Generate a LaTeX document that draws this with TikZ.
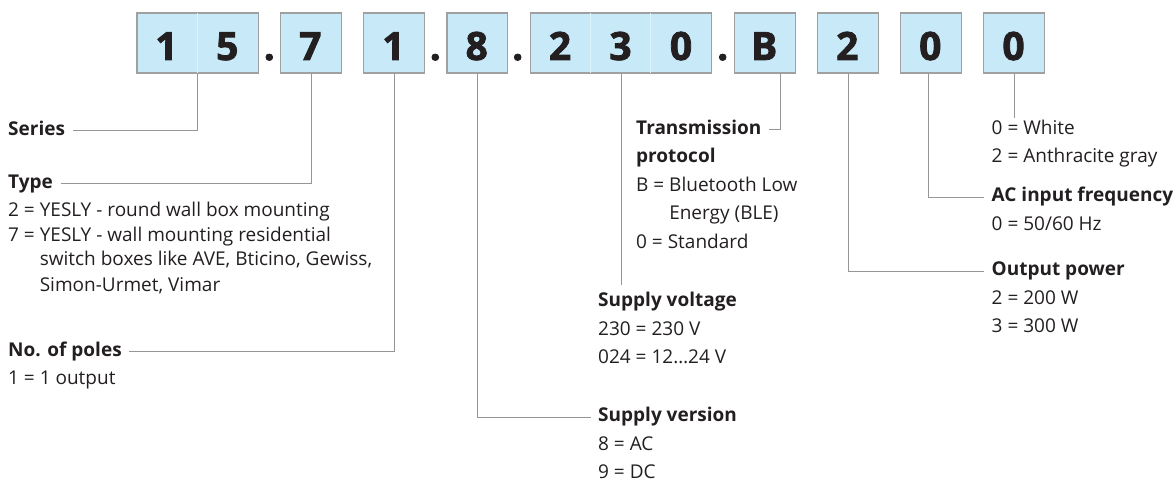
\documentclass[tikz,border=0pt]{standalone}
\usepackage{fontspec}
\setmainfont{Open Sans}
\newfontfamily\digitfont{Open Sans}[BoldFeatures={FakeBold=2}]
\usetikzlibrary{calc}
\definecolor{boxfill}{RGB}{199,233,248}
\definecolor{boxline}{RGB}{160,160,160}
\definecolor{connline}{RGB}{150,150,150}
\definecolor{ink}{RGB}{35,31,32}
\definecolor{seamcol}{RGB}{220,242,252}
\begin{document}
\begin{tikzpicture}[x=1pt,y=-1pt,
  codebox/.style={draw=boxline, line width=1.3pt, fill=boxfill, inner sep=0pt, anchor=north west, minimum height=60pt},
  digit/.style={font=\digitfont\fontsize{39}{39}\selectfont\bfseries, text=ink, anchor=base, inner sep=0pt},
  conn/.style={draw=connline, line width=1pt},
  seam/.style={draw=seamcol, line width=0.8pt},
  head/.style={font=\fontsize{19}{28.5}\selectfont\bfseries, text=ink, inner xsep=7.5pt, inner ysep=0pt, text height=9pt, text depth=0pt, anchor=base west},
  body/.style={font=\fontsize{19}{28.5}\selectfont, text=ink, inner sep=0pt, anchor=base west},
  tightbody/.style={font=\fontsize{19}{25}\selectfont, text=ink, inner sep=0pt, anchor=base west},
]
\useasboundingbox (0,0) rectangle (1175,481);

% code boxes
\node[codebox, minimum width=121.4pt] (b15) at (136.3,12.3) {};
\node[codebox, minimum width=60.7pt] (b7) at (280,12.3) {};
\node[codebox, minimum width=61pt] (b1) at (363,12.3) {};
\node[codebox, minimum width=60.7pt] (b8) at (446.3,12.3) {};
\node[codebox, minimum width=181.3pt] (b230) at (529.7,12.3) {};
\node[codebox, minimum width=61pt] (bB) at (733.7,12.3) {};
\node[codebox, minimum width=60.7pt] (b2) at (817,12.3) {};
\node[codebox, minimum width=60.7pt] (b0a) at (900,12.3) {};
\node[codebox, minimum width=61pt] (b0b) at (983,12.3) {};

% faint cell seams
\draw[seam] ($(b15.north west)+(61,1)$) -- ($(b15.south west)+(61,-1)$);
\draw[seam] ($(b230.north west)+(61,1)$) -- ($(b230.south west)+(61,-1)$);
\draw[seam] ($(b230.north west)+(121,1)$) -- ($(b230.south west)+(121,-1)$);

% digits and dots
\node[digit] (d1) at (166.5,60) {1};
\node[digit] (d5) at (227.3,60) {5};
\node[digit] (p1) at (269.3,60) {.};
\node[digit] (d7) at (310.3,60) {7};
\node[digit] (d1b) at (393.5,60) {1};
\node[digit] (p2) at (435.3,60) {.};
\node[digit] (d8) at (476.7,60) {8};
\node[digit] (p3) at (517.7,60) {.};
\node[digit] (d2) at (560,60) {2};
\node[digit] (d3) at (620.5,60) {3};
\node[digit] (d0) at (681,60) {0};
\node[digit] (p4) at (722.7,60) {.};
\node[digit] (dB) at (764.2,60) {B};
\node[digit] (d2b) at (847.3,60) {2};
\node[digit] (d0b) at (930.3,60) {0};
\node[digit] (d0c) at (1013.5,60) {0};

% headings
\node[head] (series) at (0.5,135.2) {Series};
\node[head] (type) at (0.5,188.5) {Type};
\node[head] (poles) at (0.5,356) {No. of poles};
\node[head] (trans) at (628.5,134.5) {Transmission};
\node[head] (volt) at (590.5,306.5) {Supply voltage};
\node[head] (vers) at (590.5,421.5) {Supply version};
\node[head] (acfreq) at (984,201.8) {AC input frequency};
\node[head] (power) at (984,275.5) {Output power};

% bodies
\node[tightbody] (typebody) at (8,216) {\begin{tabular}[t]{@{}l@{}}2 = YESLY - round wall box mounting\\
7 = YESLY - wall mounting residential\\
\phantom{7 = }switch boxes like AVE, Bticino, Gewiss,\\
\phantom{7 = }Simon-Urmet, Vimar\end{tabular}};
\node[body] (polesbody) at (8,384.5) {1 = 1 output};
\node[body] (transbody) at (636,163) {\begin{tabular}[t]{@{}l@{}}\textbf{protocol}\\
B = Bluetooth Low\\
\phantom{B = }Energy (BLE)\\
0 = Standard\end{tabular}};
\node[body] (voltbody) at (598,335) {\begin{tabular}[t]{@{}l@{}}230 = 230 V\\
024 = 12…24 V\end{tabular}};
\node[body] (versbody) at (598,450) {\begin{tabular}[t]{@{}l@{}}8 = AC\\
9 = DC\end{tabular}};
\node[body] (colour) at (991.5,134.5) {\begin{tabular}[t]{@{}l@{}}0 = White\\
2 = Anthracite gray\end{tabular}};
\node[body] (acbody) at (991.5,230.3) {0 = 50/60 Hz};
\node[body] (powerbody) at (991.5,304) {\begin{tabular}[t]{@{}l@{}}2 = 200 W\\
3 = 300 W\end{tabular}};

% connectors
\draw[conn] (b15.south) |- (series.east);
\draw[conn] (b7.south) |- (type.east);
\draw[conn] (b1.south) |- (poles.east);
\draw[conn] (b8.south) |- (vers.west);
\draw[conn] (b230.south) -- ($(b230.south |- volt.north)+(0,-12.5)$);
\draw[conn] ([xshift=16pt]bB.south) |- (trans.east);
\draw[conn] (b2.south) |- (power.west);
\draw[conn] ([xshift=-2.5pt]b0a.south) |- (acfreq.west);
\draw[conn] (b0b.south) -- ($(b0b.south |- colour.north)+(0,4)$);
\end{tikzpicture}
\end{document}
